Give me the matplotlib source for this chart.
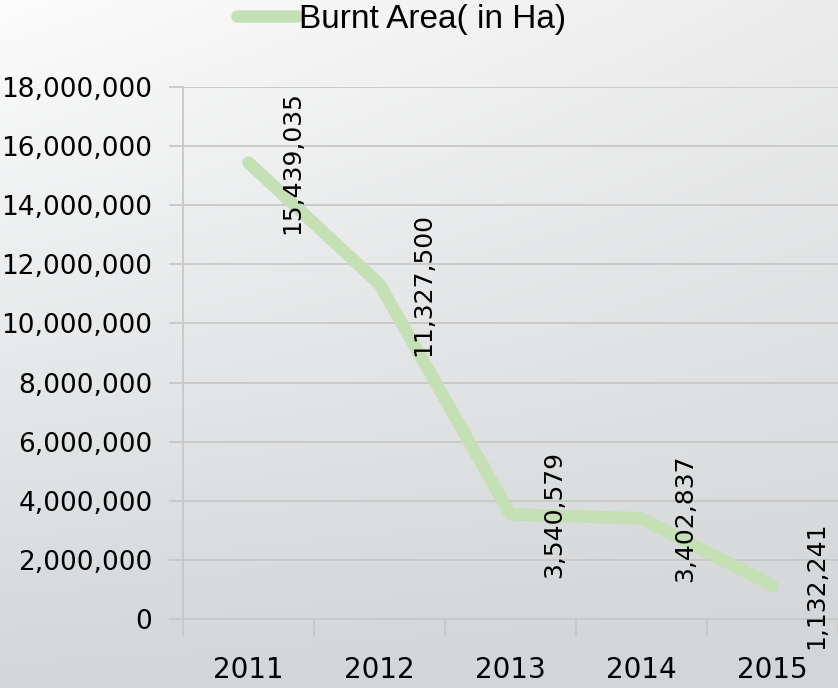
import numpy as np
import matplotlib.pyplot as plt
import matplotlib.ticker as mticker

years = ['2011', '2012', '2013', '2014', '2015']
burnt = [15439035, 11327500, 3540579, 3402837, 1132241]
yticks = [0, 2000000, 4000000, 6000000, 8000000, 10000000, 12000000, 14000000, 16000000, 18000000]

green = '#c5e0b4'
txt_font = 'DejaVu Sans'

fig = plt.figure(figsize=(8.38, 6.88), dpi=100)

# gradient background: corner colours, bilinear blend
tl = np.array([252, 252, 252]) / 255
tr = np.array([236, 236, 236]) / 255
bl = np.array([211, 215, 217]) / 255
br = np.array([210, 213, 215]) / 255
yy, xx = np.mgrid[0:1:100j, 0:1:100j]
yy = yy[..., None]
xx = xx[..., None]
img = (1 - yy) * ((1 - xx) * tl + xx * tr) + yy * ((1 - xx) * bl + xx * br)
bg = fig.add_axes([0, 0, 1, 1], zorder=0)
bg.imshow(img, extent=[0, 1, 0, 1], aspect='auto', interpolation='bilinear')
bg.axis('off')

ax = fig.add_axes([0.2184, 0.1003, 0.7816, 0.7733], zorder=1)
ax.patch.set_alpha(0)
x = np.arange(len(years))
line, = ax.plot(x, burnt, color=green, lw=9, solid_capstyle='round', solid_joinstyle='round',
                label='Burnt Area( in Ha)', zorder=3)

for xi, v in zip(x, burnt):
    ax.annotate(f'{v:,}', (xi, v), xytext=(44, 0), textcoords='offset pixels',
                rotation=90, ha='center', va='center', fontsize=18, family=txt_font,
                color='black', zorder=4)

ax.set_xlim(-0.5, 4.5)
ax.set_ylim(0, 18000000)
ax.set_yticks(yticks)
ax.yaxis.set_major_formatter(mticker.FuncFormatter(lambda v, p: f'{int(v):,}'))
ax.grid(axis='y', color='#c8c8c8', lw=1.3, zorder=1)
ax.set_xticks(np.arange(-0.5, 5, 1))
ax.set_xticklabels([])
ax.set_xticks(x, minor=True)
ax.set_xticklabels(years, minor=True)
ax.tick_params(axis='x', which='major', length=12, color='#c8c8c8', width=1.3)
ax.tick_params(axis='x', which='minor', length=0, pad=27, labelsize=20)
ax.tick_params(axis='y', length=10, color='#c8c8c8', width=1.3, labelsize=19, pad=12)
for lab in ax.get_xticklabels(minor=True) + ax.get_yticklabels():
    lab.set_family(txt_font)
for s in ['top', 'right']:
    ax.spines[s].set_visible(False)
ax.spines['left'].set_color('#c8c8c8')
ax.spines['bottom'].set_color('#c8c8c8')
ax.spines['left'].set_linewidth(1.3)
ax.spines['bottom'].set_linewidth(1.3)

fig.legend(handles=[line], loc='center', bbox_to_anchor=(0.479, 0.972), frameon=False,
           handlelength=1.8, handletextpad=0.05,
           prop={'family': 'Liberation Sans', 'size': 24})

fig.savefig('out.png', dpi=100)
